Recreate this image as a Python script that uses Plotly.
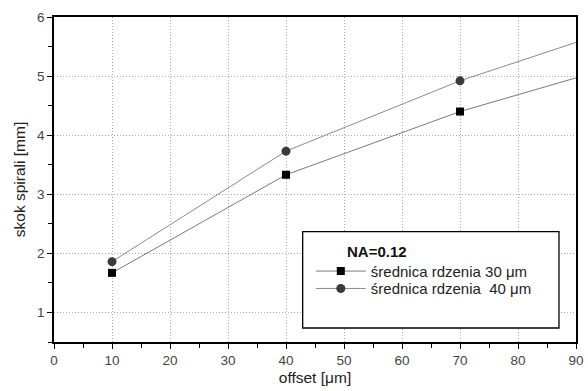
import plotly.graph_objects as go

x_vals = [10, 40, 70, 90]
y_30 = [1.67, 3.33, 4.40, 4.97]
y_40 = [1.86, 3.73, 4.92, 5.57]
name_30 = "średnica rdzenia 30 μm"
name_40 = "średnica rdzenia \u00a040 μm"
legend_title = "NA=0.12"

marker_visible = [True, True, True, False]

def colors(c):
    return [c if v else "rgba(0,0,0,0)" for v in marker_visible]

FONT = "Liberation Sans, Arial, sans-serif"

fig = go.Figure()
fig.add_trace(go.Scatter(
    x=x_vals, y=y_30, mode="lines+markers", name=name_30,
    line=dict(color="#7a7a7a", width=1),
    marker=dict(symbol="square", size=8, color=colors("#000000")),
    legend="legend",
))
fig.add_trace(go.Scatter(
    x=x_vals, y=y_40, mode="lines+markers", name=name_40,
    line=dict(color="#8a8a8a", width=1),
    marker=dict(symbol="circle", size=9, color=colors("#3a3a3a")),
    legend="legend2",
))

axis_common = dict(
    showline=True, linecolor="black", linewidth=1.6, mirror=True,
    ticks="outside", ticklen=5, tickwidth=1.3, tickcolor="black",
    showgrid=True, gridcolor="#a8a8a8", griddash="1px,2px", gridwidth=1,
    zeroline=False, automargin=False,
    tickfont=dict(family=FONT, size=13.5, color="#444444"),
    title_font=dict(family=FONT, size=15.5, color="#222222"),
)

fig.update_xaxes(
    range=[0, 90], tick0=0, dtick=10,
    minor=dict(dtick=5, ticks="outside", ticklen=4, tickcolor="black", showgrid=False),
    title_text="offset [μm]", title_standoff=5,
    **axis_common,
)
fig.update_yaxes(
    range=[0.5, 6], tick0=0, dtick=1,
    minor=dict(dtick=0.5, ticks="outside", ticklen=4, tickcolor="black", showgrid=False),
    title_text="skok spirali [mm]", title_standoff=8,
    **axis_common,
)

fig.add_shape(
    type="rect", xref="paper", yref="paper",
    x0=0.4764, x1=0.9674, y0=0.0431, y1=0.3394,
    line=dict(color="black", width=1.3), fillcolor="white", layer="above",
)

fig.add_annotation(
    xref="paper", yref="paper", x=0.619, y=0.279,
    xanchor="center", yanchor="middle", showarrow=False,
    text="<b>" + legend_title + "</b>",
    font=dict(family=FONT, size=15, color="#111111"),
)

legend_common = dict(
    xanchor="left", yanchor="middle",
    bgcolor="rgba(0,0,0,0)", borderwidth=0,
    font=dict(family=FONT, size=15, color="#222222"),
    itemwidth=50, tracegroupgap=0,
)

fig.update_layout(
    width=588, height=391,
    margin=dict(l=54, r=12, t=17, b=49),
    paper_bgcolor="white", plot_bgcolor="white",
    font=dict(family=FONT, size=15, color="#222222"),
    showlegend=True,
    legend=dict(x=0.492, y=0.2175, **legend_common),
    legend2=dict(x=0.492, y=0.164, **legend_common),
)

fig.write_html("out.html")
